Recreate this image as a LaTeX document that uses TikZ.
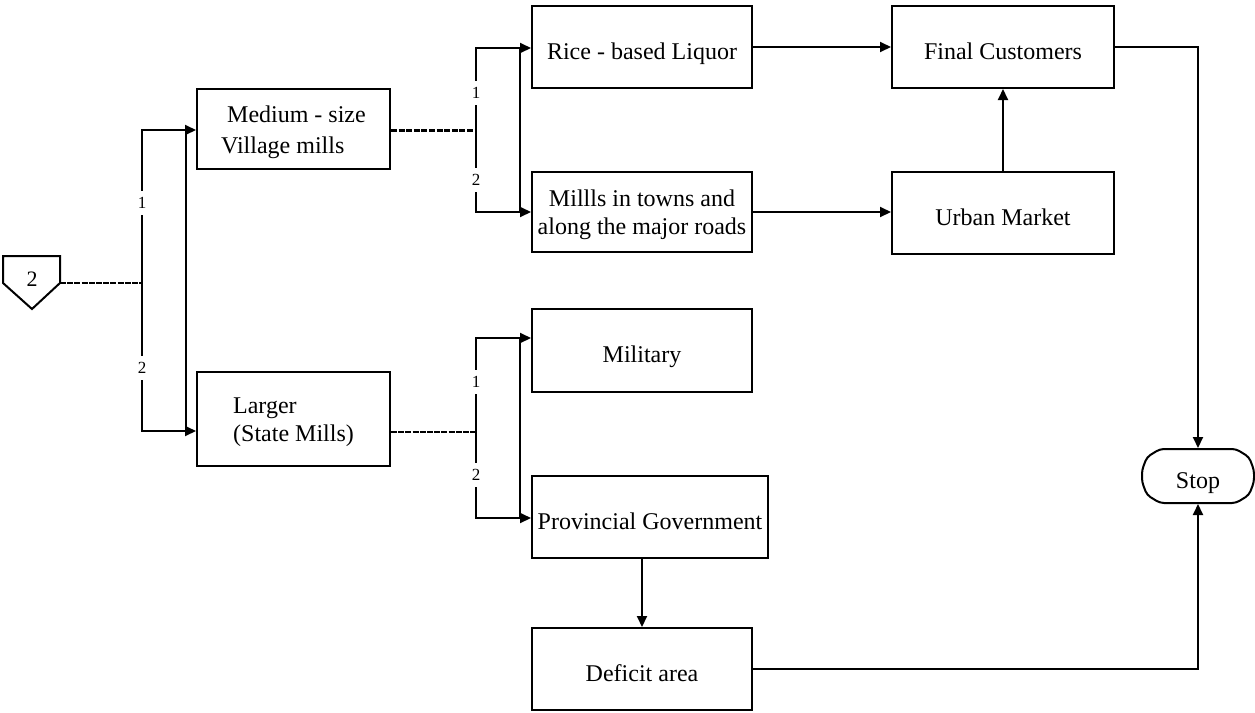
\documentclass[tikz,border=0pt]{standalone}
\usepackage{fontspec}
\setmainfont{Liberation Serif}
\usetikzlibrary{arrows.meta}
\newcommand\tlines[2][c]{\begin{tabular}{@{}#1@{}}#2\end{tabular}}
\begin{document}
\begin{tikzpicture}[x=0.5pt,y=-0.5pt,
  every path/.style={line width=1pt},
  box/.style={draw, line width=1pt, inner sep=0pt, font=\fontsize{12}{14}\selectfont, text height=12pt, text depth=0pt},
  multi/.style={text height=9pt, text depth=0pt},
  arr/.style={-{Triangle[length=5.5pt,width=5pt]}},
  lbl/.style={fill=white, inner xsep=1pt, inner ysep=3pt, font=\fontsize{8.5}{9}\selectfont},
  dsh/.style={line width=0.7pt, dash pattern=on 3pt off 0.6pt},
  dshb/.style={line width=1.5pt, dash pattern=on 3pt off 0.8pt}]
\useasboundingbox (0,0) rectangle (1255,713);

% boxes
\node[box, multi, minimum width=96.5pt, minimum height=40pt] (med) at (293.5,129) {\fontsize{12}{15.5}\selectfont\tlines[l]{\ Medium - size\\Village mills}};
\node[box, multi, minimum width=96.5pt, minimum height=47pt] (large) at (293.5,419) {\tlines[l]{Larger\\(State Mills)}};
\node[box, minimum width=110pt, minimum height=41pt] (rice) at (642,47) {Rice - based Liquor};
\node[box, multi, minimum width=110pt, minimum height=40pt] (mills) at (642,212) {\tlines{Millls in towns and\\along the major roads}};
\node[box, minimum width=110pt, minimum height=41.5pt] (mil) at (642,350.5) {Military};
\node[box, minimum width=118pt, minimum height=41pt] (prov) at (650,517) {Provincial Government};
\node[box, minimum width=110pt, minimum height=41pt] (def) at (642,669) {Deficit area};
\node[box, minimum width=111pt, minimum height=41pt] (fc) at (1003,47) {Final Customers};
\node[box, minimum width=111pt, minimum height=41pt] (um) at (1003,213) {Urban Market};

% stop terminal
\draw[rounded corners=2pt] (1160,449) -- (1236,449) -- (1249,457) -- (1254,470) -- (1254,482) -- (1249,495) -- (1236,503) -- (1160,503) -- (1147,495) -- (1142,482) -- (1142,470) -- (1147,457) -- cycle;
\node[box, draw=none, minimum width=56pt, minimum height=27pt] (stop) at (1198,476) {Stop};

% off-page connector
\draw (3,256) -- (60,256) -- (60,283) -- (32,309) -- (3,283) -- cycle;
\node[font=\fontsize{11}{12}\selectfont] (c2) at (32,279) {2};
\coordinate (c2e) at (60,283);

% bracket 1
\coordinate (b1m) at (142,283);
\coordinate (b1t) at (142,130);
\coordinate (b1b) at (142,431);
\coordinate (b1it) at (186,130);
\coordinate (b1ib) at (186,431);
\draw (b1it) -- (b1t) -- (b1b) -- (b1ib);
\draw (b1it) -- (b1ib);
\draw[arr] (b1it) -- (b1it -| med.west);
\draw[arr] (b1ib) -- (b1ib -| large.west);
\node[lbl] (l11) at (142,203) {1};
\node[lbl] (l12) at (142,368) {2};
\draw[dsh] (c2e) -- (b1m);

% bracket 2
\coordinate (b2m) at (476,130);
\coordinate (b2t) at (476,48);
\coordinate (b2b) at (476,212);
\coordinate (b2it) at (520,48);
\coordinate (b2ib) at (520,212);
\draw (b2it) -- (b2t) -- (b2b) -- (b2ib);
\draw (b2it) -- (b2ib);
\draw[arr] (b2it) -- (b2it -| rice.west);
\draw[arr] (b2ib) -- (b2ib -| mills.west);
\node[lbl] (l21) at (476,93) {1};
\node[lbl] (l22) at (476,180) {2};
\draw[dshb] (med.east |- b2m) -- (b2m);

% bracket 3
\coordinate (b3m) at (476,432);
\coordinate (b3t) at (476,338);
\coordinate (b3b) at (476,518);
\coordinate (b3it) at (520,338);
\coordinate (b3ib) at (520,518);
\draw (b3it) -- (b3t) -- (b3b) -- (b3ib);
\draw (b3it) -- (b3ib);
\draw[arr] (b3it) -- (b3it -| mil.west);
\draw[arr] (b3ib) -- (b3ib -| prov.west);
\node[lbl] (l31) at (476,382) {1};
\node[lbl] (l32) at (476,475) {2};
\draw[dsh] (large.east |- b3m) -- (b3m);

% right-hand flows
\draw[arr] (rice.east) -- (rice.east -| fc.west);
\draw[arr] (mills.east) -- (mills.east -| um.west);
\draw[arr] (um.north) -- (fc.south);
\draw[arr] (fc.east) -| (stop.north);
\draw[arr] (def.north |- prov.south) -- (def.north);
\draw[arr] (def.east) -| (stop.south);
\end{tikzpicture}
\end{document}
